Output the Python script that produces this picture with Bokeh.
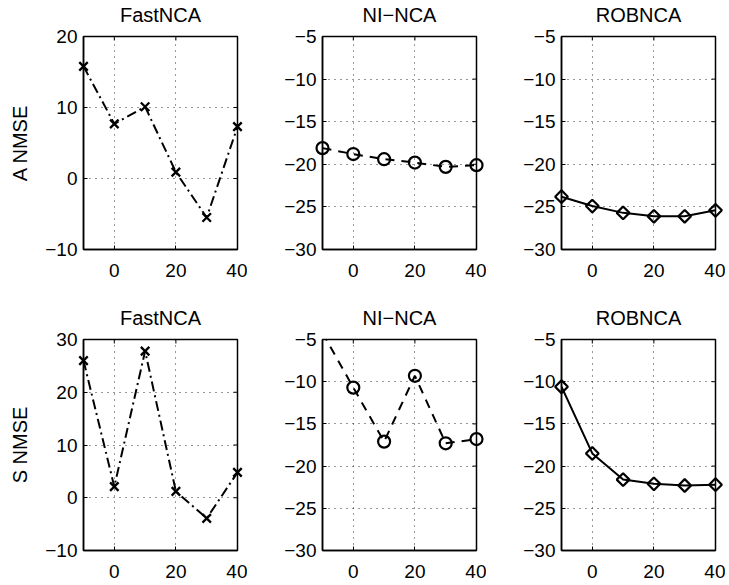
import math
from bokeh.plotting import figure
from bokeh.layouts import gridplot
from bokeh.models import FixedTicker, Range1d, LinearAxis
from bokeh.embed import file_html
from bokeh.resources import INLINE

# ---------------- data ----------------
snr = [-10, 0, 10, 20, 30, 40]
x_ticks = [0, 20, 40]

a_fastnca = [15.8, 7.7, 10.1, 0.9, -5.5, 7.3]
a_ninca = [-18.1, -18.8, -19.4, -19.8, -20.3, -20.1]
a_robnca = [-23.8, -24.9, -25.7, -26.1, -26.1, -25.4]

s_fastnca = [26.0, 2.1, 27.8, 1.2, -3.9, 4.8]
s_ninca = [-4.2, -10.7, -17.1, -9.3, -17.3, -16.8]
s_robnca = [-10.6, -18.5, -21.6, -22.1, -22.3, -22.2]

methods = ["FastNCA", "NI\u2212NCA", "ROBNCA"]
row_labels = ["A NMSE", "S NMSE"]

a_fast_ticks = [-10, 0, 10, 20]
s_fast_ticks = [-10, 0, 10, 20, 30]
nmse_ticks = [-30, -25, -20, -15, -10, -5]

FONT = "Liberation Sans"
FS = "19px"
TFS = "20px"


def minus(v):
    return str(v).replace("-", "\u2212")


def make_panel(title, ys, yticks, ylabel, style, top_row, first_col):
    left = 83 if first_col else 75
    p = figure(width=left + 154 + 10, height=303 if top_row else 277,
               x_range=Range1d(-10, 40), y_range=Range1d(yticks[0], yticks[-1]),
               output_backend="svg", toolbar_location=None,
               min_border_left=left, min_border_right=10,
               min_border_top=36, min_border_bottom=54 if top_row else 28)
    p.background_fill_color = "white"
    p.border_fill_color = "white"
    p.outline_line_color = "black"
    p.outline_line_width = 1.5
    p.outline_line_alpha = 1.0

    ylo, yhi = yticks[0], yticks[-1]
    xax = p.below[0]
    yax = p.left[0]

    for ax, ticks in ((xax, x_ticks), (yax, yticks)):
        ax.ticker = FixedTicker(ticks=ticks)
        ax.major_label_overrides = {t: minus(t) for t in ticks}
        ax.major_label_text_font = FONT
        ax.major_label_text_font_size = FS
        ax.major_label_text_color = "black"
        ax.axis_line_color = "black"
        ax.axis_line_width = 1.5
        ax.major_tick_in = 4
        ax.major_tick_out = 0
        ax.major_tick_line_color = "black"
        ax.minor_tick_line_color = None
    xax.major_label_standoff = 14
    yax.major_label_standoff = 6

    if ylabel:
        yax.axis_label = ylabel
        yax.axis_label_text_font = FONT
        yax.axis_label_text_font_size = TFS
        yax.axis_label_text_font_style = "normal"
        yax.axis_label_text_color = "black"
        yax.axis_label_standoff = 11

    # panel title: label of a tick-less axis above the box
    tax = LinearAxis(ticker=FixedTicker(ticks=[]), axis_label=title)
    tax.axis_line_color = None
    tax.major_tick_line_color = None
    tax.minor_tick_line_color = None
    tax.major_tick_in = 0
    tax.major_tick_out = 0
    tax.major_label_standoff = 0
    tax.axis_label_text_font = FONT
    tax.axis_label_text_font_size = TFS
    tax.axis_label_text_font_style = "normal"
    tax.axis_label_text_color = "black"
    tax.axis_label_standoff = 11
    p.add_layout(tax, "above")

    for g in (p.xgrid[0], p.ygrid[0]):
        g.grid_line_color = "black"
        g.grid_line_alpha = 0.8
        g.grid_line_width = 1
        g.grid_line_dash = "1 5"
    p.xgrid[0].ticker = FixedTicker(ticks=x_ticks)
    p.ygrid[0].ticker = FixedTicker(ticks=yticks)

    # inward ticks on the top and right edges (MATLAB box style);
    # half of each dash falls outside the frame and is clipped away
    p.scatter(x_ticks, [yhi] * len(x_ticks), marker="dash", size=8,
              angle=math.pi / 2, line_color="black", line_width=1)
    p.scatter([snr[-1]] * len(yticks), yticks, marker="dash", size=8,
              line_color="black", line_width=1)

    kind, dash = style
    p.line(snr, ys, line_color="black", line_width=2, line_dash=dash)

    # markers are drawn unclipped, but only those whose value lies inside the axes
    mx = [x for x, y in zip(snr, ys) if ylo <= y <= yhi]
    my = [y for y in ys if ylo <= y <= yhi]
    if kind == "x":
        r = p.scatter(mx, my, marker="x", size=12, line_color="black", line_width=2.3)
    elif kind == "o":
        r = p.scatter(mx, my, marker="circle", size=12, line_color="black",
                      fill_color=None, line_width=2.2)
    else:
        r = p.scatter(mx, my, marker="square", size=9, angle=math.pi / 4,
                      line_color="black", fill_color=None, line_width=2.2)
    r.level = "overlay"
    return p


styles = [("x", "10 4 2 4"), ("o", "9 7"), ("d", "solid")]
top = [
    make_panel(methods[0], a_fastnca, a_fast_ticks, row_labels[0], styles[0], True, True),
    make_panel(methods[1], a_ninca, nmse_ticks, None, styles[1], True, False),
    make_panel(methods[2], a_robnca, nmse_ticks, None, styles[2], True, False),
]
bottom = [
    make_panel(methods[0], s_fastnca, s_fast_ticks, row_labels[1], styles[0], False, True),
    make_panel(methods[1], s_ninca, nmse_ticks, None, styles[1], False, False),
    make_panel(methods[2], s_robnca, nmse_ticks, None, styles[2], False, False),
]

layout = gridplot([top, bottom], toolbar_location=None)
open("out.html", "w").write(file_html(layout, INLINE))
